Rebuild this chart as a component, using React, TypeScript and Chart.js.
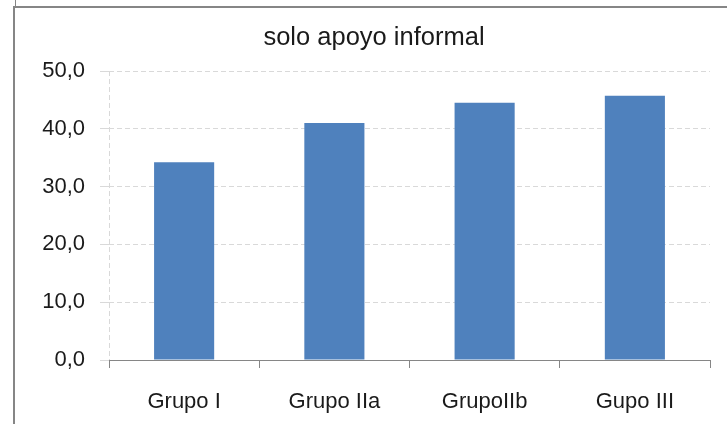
import React, { useEffect, useRef } from "react";
import { Chart, registerables } from "chart.js";

Chart.register(...registerables);

const categories = ["Grupo I", "Grupo IIa", "GrupoIIb", "Gupo III"];
const values = [34.2, 41.0, 44.5, 45.7];
const chartTitle = "solo apoyo informal";
const yMin = 0;
const yMax = 50;
const yStep = 10;

const FONT = "'Liberation Sans', Arial, sans-serif";

export default function App() {
  const ref = useRef<HTMLCanvasElement | null>(null);

  useEffect(() => {
    if (!ref.current) return;
    const chart = new Chart(ref.current, {
      type: "bar",
      data: {
        labels: categories,
        datasets: [
          {
            data: values,
            backgroundColor: "#4f81bd",
            borderWidth: 0,
            barPercentage: 0.4,
            categoryPercentage: 1,
          },
        ],
      },
      options: {
        animation: false,
        responsive: false,
        maintainAspectRatio: false,
        layout: { padding: { left: 38, right: 17, top: 0, bottom: 0 } },
        plugins: {
          legend: { display: false },
          tooltip: { enabled: false },
          title: {
            display: true,
            text: chartTitle,
            color: "#1a1a1a",
            font: { family: FONT, size: 25.5, weight: "normal" },
            padding: { top: 22.2, bottom: 18.2 },
          },
        },
        scales: {
          x: {
            offset: true,
            grid: {
              offset: true,
              drawOnChartArea: true,
              color: (ctx: any) => (ctx.index === 0 ? "#d9d9d9" : "rgba(0,0,0,0)"),
              tickColor: "#868686",
              tickLength: 8,
              tickBorderDash: [],
            },
            border: { display: true, color: "#868686", width: 1, dash: [5, 3] },
            ticks: {
              color: "#1a1a1a",
              font: { family: FONT, size: 22 },
              padding: 20.5,
              maxRotation: 0,
              autoSkip: false,
            },
            afterFit: (scale: any) => {
              scale.height = 64;
            },
          },
          y: {
            min: yMin,
            max: yMax,
            grid: {
              color: "#d9d9d9",
              tickColor: "#d9d9d9",
              tickLength: 9,
            },
            border: { display: false, dash: [5, 3] },
            ticks: {
              stepSize: yStep,
              color: "#1a1a1a",
              font: { family: FONT, size: 22 },
              padding: 15,
              callback: (v: any) => Number(v).toFixed(1).replace(".", ","),
            },
            afterFit: (scale: any) => {
              scale.width = 71;
            },
          },
        },
      },
    });
    return () => chart.destroy();
  }, []);

  return (
    <div style={{ position: "fixed", left: 0, top: 0, width: 727, height: 424, background: "#fff", overflow: "hidden" }}>
      <canvas ref={ref} width={727} height={424} style={{ position: "absolute", left: 0, top: 0, width: 727, height: 424 }} />
      <div
        style={{
          position: "absolute",
          left: 13,
          top: 6,
          width: 800,
          height: 500,
          borderLeft: "2px solid #868686",
          borderTop: "2px solid #868686",
          pointerEvents: "none",
        }}
      />
      <div style={{ position: "absolute", left: 15, top: 0, width: 1, height: 6, background: "#868686" }} />
    </div>
  );
}
